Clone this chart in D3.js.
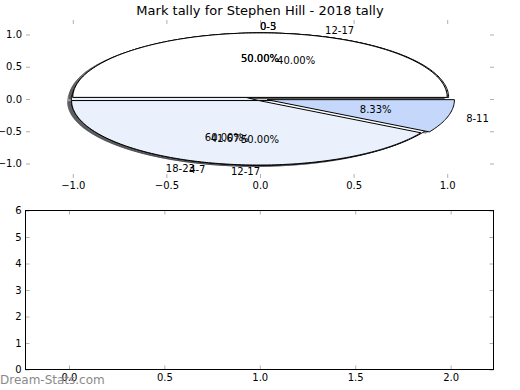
<!DOCTYPE html>
<html>
<head>
<meta charset="utf-8">
<script src="https://cdn.jsdelivr.net/npm/d3@7"></script>
<style>
  body { margin: 0; background: #fff; }
  svg { font-family: "DejaVu Sans", sans-serif; }
</style>
</head>
<body>
<svg id="chart" width="520" height="390"></svg>
<script>
// three tallies drawn on top of each other, in this order
const tallyLabels1 = ["12-17", "18-23"];
const tallyValues1 = [2, 3];
const tallyLabels2 = ["0-5", "12-17"];
const tallyValues2 = [1, 1];
const tallyLabels3 = ["0-3", "4-7", "8-11"];
const tallyValues3 = [6, 5, 1];

const pieTicks = [-1, -0.5, 0, 0.5, 1];
const lowerXTicks = [0, 0.5, 1, 1.5, 2];
const lowerYTicks = [0, 1, 2, 3, 4, 5, 6];

// styles for each tally (explode offsets and slice colours)
const explode1 = [0.025, 0.025];
const explode2 = [0.025, 0.025];
const explode3 = [0.025, 0.025, 0.04];
const colors1 = ["#ffffff", "#eaf1fd"];
const colors2 = ["#ffffff", "#ffffff"];
const colors3 = ["#ffffff", "#eaf1fd", "#c5d8fc"];

const svg = d3.select("#chart");
const tickColor = "#b0b0b0";

// ---- upper axes (pies) ----
const x = d3.scaleLinear().domain([-1.25, 1.25]).range([26, 494]);
const y = d3.scaleLinear().domain([-1.225, 1.225]).range([178, 20]);

const line = d3.line().x(d => x(d[0])).y(d => y(d[1]));

function wedgePoints(cx, cy, t1, t2) {
    const n = Math.max(2, Math.ceil((t2 - t1) / 0.02));
    const pts = [[cx, cy]];
    for (let i = 0; i <= n; i++) {
        const t = t1 + (t2 - t1) * i / n;
        pts.push([cx + Math.cos(t), cy + Math.sin(t)]);
    }
    return pts;
}

const tallies = [
    { labels: tallyLabels1, values: tallyValues1, explode: explode1, colors: colors1 },
    { labels: tallyLabels2, values: tallyValues2, explode: explode2, colors: colors2 },
    { labels: tallyLabels3, values: tallyValues3, explode: explode3, colors: colors3 }
];

const pie = d3.pie().sort(null).value(d => d);

tallies.forEach(t => {
    const total = d3.sum(t.values);
    t.slices = pie(t.values).map((s, i) => {
        const mid = (s.startAngle + s.endAngle) / 2;
        const e = t.explode[i];
        return {
            label: t.labels[i],
            pct: d3.format(".2f")(100 * t.values[i] / total) + "%",
            t1: s.startAngle, t2: s.endAngle, mid: mid,
            cx: e * Math.cos(mid), cy: e * Math.sin(mid),
            color: t.colors[i]
        };
    });
});

const gShadow = svg.append("g");
const gWedge = svg.append("g");
const gText = svg.append("g").attr("font-size", 10).attr("fill", "#000");

tallies.forEach(t => {
    t.slices.forEach(s => {
        const c = d3.color(s.color);
        const dark = d3.rgb(c.r * 0.3, c.g * 0.3, c.b * 0.3);
        gShadow.append("path")
            .attr("d", line(wedgePoints(s.cx - 0.02, s.cy - 0.02, s.t1, s.t2)) + "Z")
            .attr("fill", dark).attr("fill-opacity", 0.5)
            .attr("stroke", dark).attr("stroke-opacity", 0.5);
        gWedge.append("path")
            .attr("d", line(wedgePoints(s.cx, s.cy, s.t1, s.t2)) + "Z")
            .attr("fill", s.color)
            .attr("stroke", "#000")
            .attr("stroke-width", 1);
    });
});

tallies.forEach(t => {
    t.slices.forEach(s => {
        const lx = s.cx + 1.1 * Math.cos(s.mid);
        const ly = s.cy + 1.1 * Math.sin(s.mid);
        gText.append("text")
            .attr("x", x(lx)).attr("y", y(ly)).attr("dy", "0.36em")
            .attr("text-anchor", lx > 0 ? "start" : "end")
            .text(s.label);
        gText.append("text")
            .attr("x", x(s.cx + 0.6 * Math.cos(s.mid)))
            .attr("y", y(s.cy + 0.6 * Math.sin(s.mid))).attr("dy", "0.36em")
            .attr("text-anchor", "middle")
            .text(s.pct);
    });
});

function styleAxis(g) {
    g.select(".domain").remove();
    g.selectAll(".tick line").attr("stroke", tickColor);
    g.selectAll(".tick text").attr("fill", "#000").attr("font-size", 10)
        .attr("font-family", "DejaVu Sans, sans-serif");
}

const fmt1 = d3.format(".1f");
svg.append("g").attr("transform", "translate(0,178)")
    .call(d3.axisBottom(x).tickValues(pieTicks).tickFormat(fmt1).tickSize(-4).tickPadding(4))
    .call(styleAxis);
svg.append("g").attr("transform", "translate(0,20)")
    .call(d3.axisTop(x).tickValues(pieTicks).tickFormat("").tickSize(-4))
    .call(styleAxis);
svg.append("g").attr("transform", "translate(26,0)")
    .call(d3.axisLeft(y).tickValues(pieTicks).tickFormat(fmt1).tickSize(-4).tickPadding(4))
    .call(styleAxis);
svg.append("g").attr("transform", "translate(494,0)")
    .call(d3.axisRight(y).tickValues(pieTicks).tickFormat("").tickSize(-4))
    .call(styleAxis);

svg.append("text")
    .attr("x", 260).attr("y", 14.5)
    .attr("text-anchor", "middle")
    .attr("font-size", 13)
    .text("Mark tally for Stephen Hill - 2018 tally");

// ---- lower axes (empty) ----
const x2 = d3.scaleLinear().domain([-0.225, 2.222]).range([26, 493]);
const y2 = d3.scaleLinear().domain([0, 6]).range([369.5, 210.5]);

svg.append("g").attr("transform", "translate(0,369.5)")
    .call(d3.axisBottom(x2).tickValues(lowerXTicks).tickFormat(fmt1).tickSize(-4).tickPadding(4))
    .call(styleAxis);
svg.append("g").attr("transform", "translate(0,210.5)")
    .call(d3.axisTop(x2).tickValues(lowerXTicks).tickFormat("").tickSize(-4))
    .call(styleAxis);
svg.append("g").attr("transform", "translate(25.5,0)")
    .call(d3.axisLeft(y2).tickValues(lowerYTicks).tickFormat(d3.format("d")).tickSize(-4).tickPadding(4))
    .call(styleAxis);
svg.append("g").attr("transform", "translate(493.5,0)")
    .call(d3.axisRight(y2).tickValues(lowerYTicks).tickFormat("").tickSize(-4))
    .call(styleAxis);

svg.append("rect")
    .attr("x", 25.5).attr("y", 210.5)
    .attr("width", 468).attr("height", 159)
    .attr("fill", "none").attr("stroke", "#000").attr("stroke-width", 1);

svg.append("text")
    .attr("x", 0).attr("y", 384)
    .attr("font-size", 12)
    .attr("fill", "#8a8a8a")
    .text("Dream-Stats.com");
</script>
</body>
</html>
